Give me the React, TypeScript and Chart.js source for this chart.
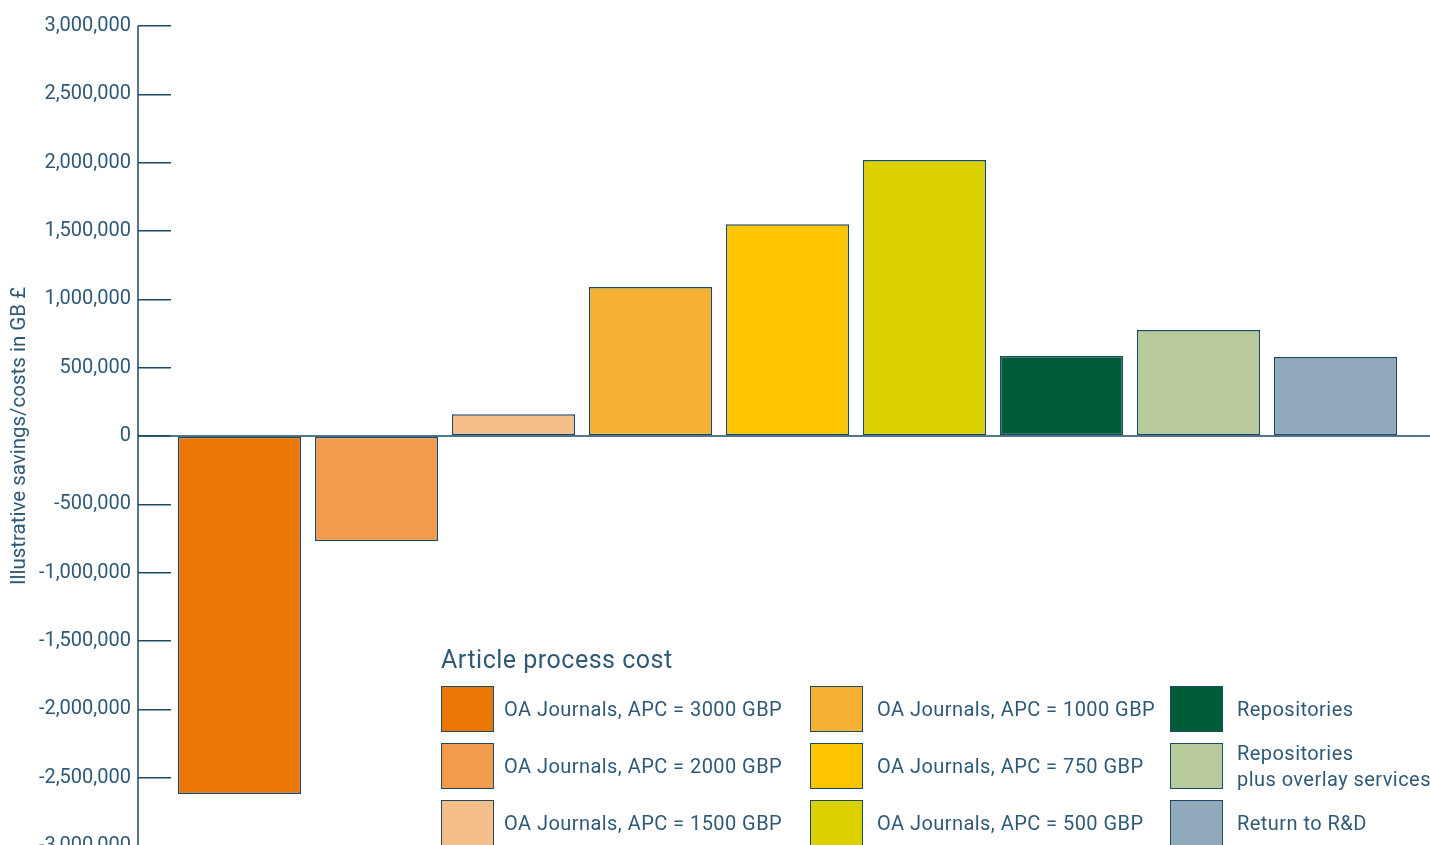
import React, { useEffect, useRef } from "react";
import { Chart, registerables } from "chart.js";

Chart.register(...registerables);

const categories: string[] = [
  "OA Journals, APC = 3000 GBP",
  "OA Journals, APC = 2000 GBP",
  "OA Journals, APC = 1500 GBP",
  "OA Journals, APC = 1000 GBP",
  "OA Journals, APC = 750 GBP",
  "OA Journals, APC = 500 GBP",
  "Repositories",
  "Repositories\nplus overlay services",
  "Return to R&D",
];

const values: number[] = [
  -2620000, -770000, 160000, 1090000, 1550000, 2020000, 585000, 775000, 578000,
];

const colors: string[] = [
  "#EA7703",
  "#F29B4B",
  "#F6BE8A",
  "#F6B133",
  "#FDC400",
  "#DCD100",
  "#005C37",
  "#B8C99C",
  "#91AABB",
];

const yMin = -3000000;
const yMax = 3000000;
const yStep = 500000;
const yTitle = "Illustrative savings/costs in GB £";
const legendTitle = "Article process cost";

const INK = "#1b4a64";
const TEXT = "#2e5a78";
const FONT = "Roboto, 'DejaVu Sans', sans-serif";
const TICK_LEN = 33;

const axisPlugin = {
  id: "customAxis",
  beforeDatasetsDraw(chart: any) {
    const y = chart.scales.y;
    const ctx = chart.ctx;
    const area = chart.chartArea;
    const axisX = y.right - TICK_LEN;
    const zeroY = y.getPixelForValue(0);
    ctx.save();
    ctx.strokeStyle = INK;
    ctx.lineWidth = 1.5;
    ctx.beginPath();
    ctx.moveTo(axisX, area.top);
    ctx.lineTo(axisX, chart.height);
    ctx.moveTo(axisX, zeroY);
    ctx.lineTo(chart.width, zeroY);
    ctx.stroke();
    ctx.restore();
  },
};

export default function App() {
  const ref = useRef<HTMLCanvasElement | null>(null);

  useEffect(() => {
    if (!ref.current) return;
    const chart = new Chart(ref.current, {
      type: "bar",
      data: {
        labels: categories,
        datasets: [
          {
            data: values,
            backgroundColor: colors,
            borderColor: INK,
            borderWidth: 1.5,
            borderSkipped: false,
            barPercentage: 0.9,
            categoryPercentage: 1,
          },
        ],
      },
      options: {
        animation: false,
        responsive: false,
        layout: { padding: { top: 26, bottom: 34, left: 0, right: 26 } },
        plugins: { legend: { display: false }, tooltip: { enabled: false } },
        scales: {
          x: { display: false },
          y: {
            min: yMin,
            max: yMax,
            afterFit: (s: any) => {
              s.width = 171;
            },
            ticks: {
              stepSize: yStep,
              color: TEXT,
              padding: 7,
              font: { family: FONT, size: 20 },
              callback: (v: any) => Number(v).toLocaleString("en-US"),
            },
            grid: {
              drawOnChartArea: false,
              drawTicks: true,
              tickLength: TICK_LEN,
              color: INK,
              lineWidth: 1.5,
            },
            border: { display: false },
            title: {
              display: true,
              text: yTitle,
              color: TEXT,
              font: { family: FONT, size: 20.5 },
              padding: { top: 8, bottom: 0 },
            },
          },
        },
      },
      plugins: [axisPlugin],
    });
    return () => chart.destroy();
  }, []);

  const colX = [441, 810, 1170];
  const rowY = [686, 743, 800];

  return (
    <div
      style={{
        position: "fixed",
        left: 0,
        top: 0,
        width: 1430,
        height: 845,
        overflow: "hidden",
        background: "#fff",
        fontFamily: FONT,
      }}
    >
      <canvas ref={ref} width={1430} height={880} style={{ display: "block" }} />
      <div
        style={{
          position: "absolute",
          left: 441,
          top: 645,
          fontSize: 25,
          letterSpacing: "0.5px",
          lineHeight: "30px",
          color: TEXT,
          whiteSpace: "nowrap",
        }}
      >
        {legendTitle}
      </div>
      {categories.map((c, i) => {
        const col = Math.floor(i / 3);
        const row = i % 3;
        const lines = c.split("\n");
        return (
          <div
            key={i}
            style={{
              position: "absolute",
              left: colX[col],
              top: rowY[row],
              height: 46,
              display: "flex",
              alignItems: "center",
              whiteSpace: "nowrap",
            }}
          >
            <div
              style={{
                width: 53,
                height: 46,
                boxSizing: "border-box",
                background: colors[i],
                border: `1.5px solid ${INK}`,
                marginRight: col === 0 ? 10 : 14,
                flex: "none",
              }}
            />
            <div
              style={{
                fontSize: 20,
                letterSpacing: "0.45px",
                lineHeight: "26px",
                color: TEXT,
              }}
            >
              {lines.map((l, k) => (
                <div key={k}>{l}</div>
              ))}
            </div>
          </div>
        );
      })}
    </div>
  );
}
